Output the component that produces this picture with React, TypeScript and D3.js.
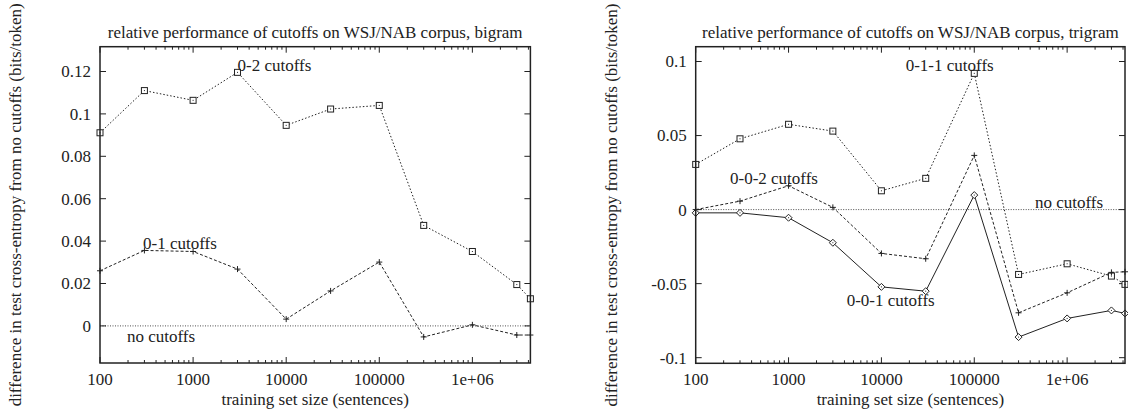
import React from "react";
import * as d3 from "d3";

const sizes = [100, 300, 1000, 3000, 10000, 30000, 100000, 300000, 1e6, 3e6, 4.2e6];
const xTicks = [100, 1000, 10000, 100000, 1e6];
const xTickLabels = ["100", "1000", "10000", "100000", "1e+06"];

const bigram02 = [0.0911, 0.111, 0.1064, 0.1196, 0.0946, 0.1023, 0.104, 0.0474, 0.0351, 0.0195, 0.0128];
const bigram01 = [0.026, 0.0356, 0.0351, 0.0268, 0.0032, 0.0165, 0.0301, -0.0052, 0.0005, -0.0043, -0.0043];
const bigramTicks = [0, 0.02, 0.04, 0.06, 0.08, 0.1, 0.12];
const bigramTickLabels = ["0", "0.02", "0.04", "0.06", "0.08", "0.1", "0.12"];

const trigram011 = [0.0305, 0.0478, 0.0576, 0.053, 0.0127, 0.0211, 0.092, -0.0438, -0.0366, -0.0449, -0.0505];
const trigram002 = [0.0, 0.0057, 0.0161, 0.0015, -0.0296, -0.0332, 0.0366, -0.0697, -0.0562, -0.0424, -0.042];
const trigram001 = [-0.0022, -0.0022, -0.0055, -0.0224, -0.0522, -0.0551, 0.0098, -0.0861, -0.0735, -0.0681, -0.0701];
const trigramTicks = [-0.1, -0.05, 0, 0.05, 0.1];
const trigramTickLabels = ["-0.1", "-0.05", "0", "0.05", "0.1"];

const FONT = "Liberation Serif, Times New Roman, serif";
const FS = 17;
const INK = "#222";

type Series = { values: number[]; dash: string; marker: "square" | "plus" | "diamond" | "none" };
type Label = { text: string; x: number; y: number };

function Marker({ kind, x, y }: { kind: string; x: number; y: number }) {
  if (kind === "square")
    return (
      <g>
        <rect x={x - 3} y={y - 3} width={6} height={6} fill="white" stroke={INK} strokeWidth={1} />
        <rect x={x - 0.5} y={y - 0.5} width={1} height={1} fill={INK} />
      </g>
    );
  if (kind === "plus")
    return (
      <path d={`M${x - 3},${y}H${x + 3}M${x},${y - 3}V${y + 3}`} stroke={INK} strokeWidth={1} />
    );
  if (kind === "diamond")
    return (
      <g>
        <path d={`M${x},${y - 3.5}L${x + 3.5},${y}L${x},${y + 3.5}L${x - 3.5},${y}Z`} fill="white" stroke={INK} strokeWidth={1} />
        <rect x={x - 0.5} y={y - 0.5} width={1} height={1} fill={INK} />
      </g>
    );
  return null;
}

function Panel(props: {
  left: number; right: number; top: number; bottom: number;
  yDomain: [number, number]; yTicks: number[]; yTickLabels: string[];
  title: string; series: Series[]; labels: Label[]; noCutY: number; noCutLabel: Label;
}) {
  const { left, right, top, bottom } = props;
  const x = d3.scaleLog().domain([100, 4.2e6]).range([left, right]);
  const y = d3.scaleLinear().domain(props.yDomain).range([bottom, top]);
  const line = d3.line<number>().x((_, i) => x(sizes[i])).y((v) => y(v));
  const minor: number[] = [];
  for (let e = 2; e <= 6; e++) for (let m = 2; m <= 9; m++) {
    const v = m * Math.pow(10, e);
    if (v <= 4.2e6) minor.push(v);
  }
  const cx = (left + right) / 2;
  const cy = (top + bottom) / 2;
  const txt = { fontSize: FS, fontFamily: FONT, fill: INK } as const;
  return (
    <g>
      <text x={cx} y={32} textAnchor="middle" dy="0.35em" {...txt}>{props.title}</text>
      <text transform={`translate(${left - 85},${cy}) rotate(-90)`} textAnchor="middle" dy="0.35em" {...txt}>
        difference in test cross-entropy from no cutoffs (bits/token)
      </text>
      <text x={cx} y={399} textAnchor="middle" dy="0.35em" {...txt}>training set size (sentences)</text>
      {xTicks.map((t, i) => (
        <text key={t} x={x(t)} y={379.5} textAnchor="middle" dy="0.35em" {...txt}>{xTickLabels[i]}</text>
      ))}
      {props.yTicks.map((t, i) => (
        <text key={t} x={left - 9} y={y(t)} textAnchor="end" dy="0.35em" {...txt}>{props.yTickLabels[i]}</text>
      ))}
      {xTicks.map((t) => (
        <path key={"xt" + t} d={`M${x(t)},${bottom}v-6M${x(t)},${top}v6`} stroke={INK} strokeWidth={1} />
      ))}
      {minor.map((t) => (
        <path key={"xm" + t} d={`M${x(t)},${bottom}v-3M${x(t)},${top}v3`} stroke={INK} strokeWidth={1} />
      ))}
      {props.yTicks.map((t) => (
        <path key={"yt" + t} d={`M${left},${y(t)}h6M${right},${y(t)}h-6`} stroke={INK} strokeWidth={1} />
      ))}
      <line x1={left} x2={right} y1={y(props.noCutY)} y2={y(props.noCutY)} stroke={INK} strokeWidth={0.8} strokeDasharray="1,1.5" />
      {props.series.map((s, si) => (
        <g key={si}>
          <path d={line(s.values) || ""} fill="none" stroke={INK} strokeWidth={1} strokeDasharray={s.dash} />
          {s.values.map((v, i) => (
            <Marker key={i} kind={s.marker} x={x(sizes[i])} y={y(v)} />
          ))}
        </g>
      ))}
      {props.labels.map((l) => (
        <text key={l.text} x={l.x} y={l.y} dy="0.35em" {...txt}>{l.text}</text>
      ))}
      <text x={props.noCutLabel.x} y={props.noCutLabel.y} dy="0.35em" {...txt}>{props.noCutLabel.text}</text>
      <rect x={left} y={top} width={right - left} height={bottom - top} fill="none" stroke={INK} strokeWidth={1.5} />
    </g>
  );
}

export default function App() {
  return (
    <svg width={1128} height={411} style={{ position: "absolute", left: 0, top: 0, background: "white" }}>
      <rect width={1128} height={411} fill="white" />
      <Panel
        left={100} right={530.4} top={46.7} bottom={363}
        yDomain={[-0.0175, 0.1317]} yTicks={bigramTicks} yTickLabels={bigramTickLabels}
        title="relative performance of cutoffs on WSJ/NAB corpus, bigram"
        series={[
          { values: bigram02, dash: "1.5,2", marker: "square" },
          { values: bigram01, dash: "3,2", marker: "plus" },
        ]}
        labels={[
          { text: "0-2 cutoffs", x: 237.5, y: 65 },
          { text: "0-1 cutoffs", x: 143, y: 243 },
        ]}
        noCutY={0}
        noCutLabel={{ text: "no cutoffs", x: 127, y: 336 }}
      />
      <Panel
        left={695.7} right={1125} top={46.7} bottom={363.3}
        yDomain={[-0.1038, 0.110]} yTicks={trigramTicks} yTickLabels={trigramTickLabels}
        title="relative performance of cutoffs on WSJ/NAB corpus, trigram"
        series={[
          { values: trigram011, dash: "1.5,2", marker: "square" },
          { values: trigram002, dash: "3,2", marker: "plus" },
          { values: trigram001, dash: "none", marker: "diamond" },
        ]}
        labels={[
          { text: "0-1-1 cutoffs", x: 905.7, y: 65 },
          { text: "0-0-2 cutoffs", x: 730, y: 178 },
          { text: "0-0-1 cutoffs", x: 846.7, y: 300 },
        ]}
        noCutY={0}
        noCutLabel={{ text: "no cutoffs", x: 1035, y: 201.7 }}
      />
    </svg>
  );
}
